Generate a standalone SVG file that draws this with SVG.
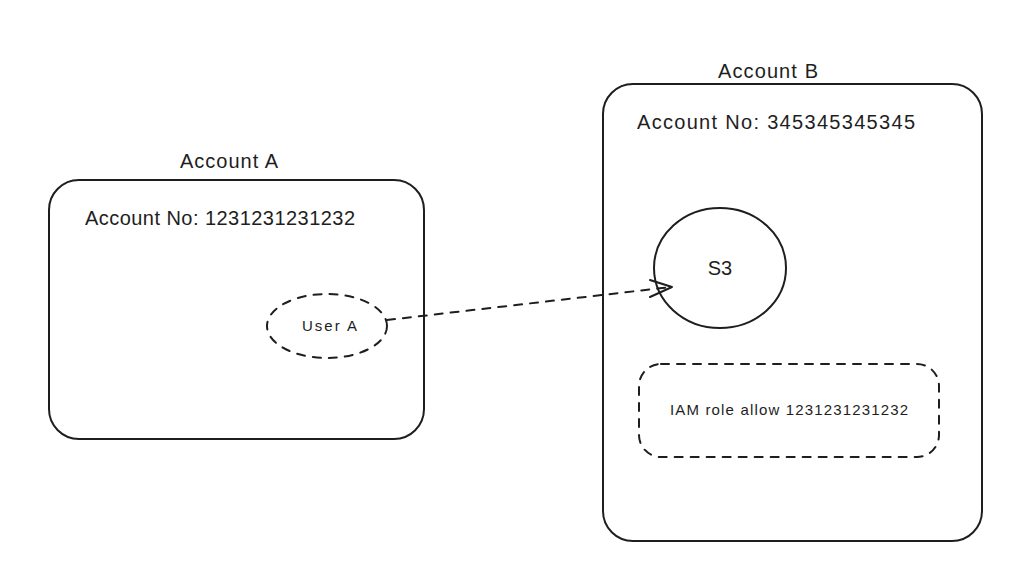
<svg xmlns="http://www.w3.org/2000/svg" width="1017" height="585" viewBox="0 0 1017 585">
<style>
.shape{fill:none;stroke:#1e1e1e;stroke-width:2;stroke-linecap:round;stroke-linejoin:round}
.dashed{stroke-dasharray:8 8}
.t{font-family:"Liberation Sans",Arial,sans-serif;fill:#1e1e1e}
.big{font-size:20px}
.small{font-size:15px}
</style>
<rect width="1017" height="585" fill="#ffffff"/>
<g id="accountA">
<rect class="shape" x="49" y="180" width="375" height="259" rx="30" ry="30"/>
<text class="t big" x="180" y="168" textLength="98" lengthAdjust="spacing">Account A</text>
<text class="t big" x="85" y="225" textLength="270" lengthAdjust="spacing">Account No: 1231231231232</text>
</g>
<g id="userA">
<ellipse class="shape dashed" cx="327" cy="326" rx="60" ry="32"/>
<text class="t small" x="302" y="331" textLength="55" lengthAdjust="spacing">User A</text>
</g>
<g id="accountB">
<rect class="shape" x="603" y="84" width="379" height="457" rx="30" ry="30"/>
<text class="t big" x="718" y="78" textLength="100" lengthAdjust="spacing">Account B</text>
<text class="t big" x="637" y="129" textLength="278" lengthAdjust="spacing">Account No: 345345345345</text>
</g>
<g id="s3">
<ellipse class="shape" cx="720" cy="268" rx="66" ry="60"/>
<text class="t big" x="720" y="275" text-anchor="middle">S3</text>
</g>
<g id="iamRole">
<rect class="shape dashed" x="639" y="364" width="300" height="93" rx="22" ry="22"/>
<text class="t small" x="670" y="415" textLength="238" lengthAdjust="spacing">IAM role allow 1231231231232</text>
</g>
<g id="connectors">
<line class="shape dashed" x1="387" y1="320" x2="671" y2="287"/>
<polyline class="shape" points="650,280 672,287 650,297"/>
</g>
</svg>
